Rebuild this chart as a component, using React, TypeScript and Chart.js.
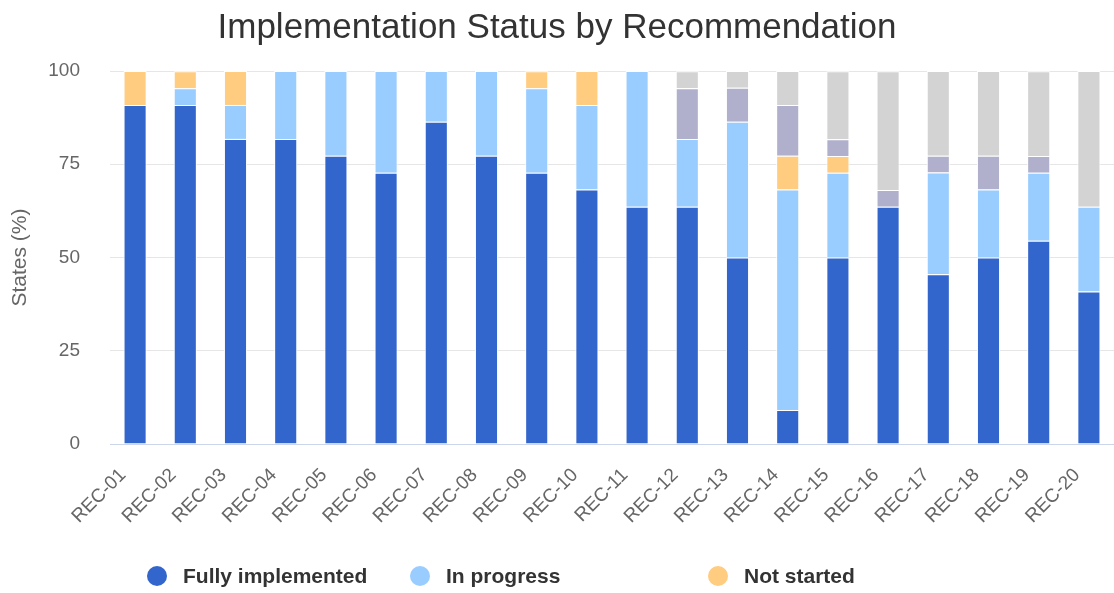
import React, { useEffect, useRef } from "react";
import { Chart, registerables } from "chart.js";

Chart.register(...registerables);

const categories = [
  "REC-01", "REC-02", "REC-03", "REC-04", "REC-05", "REC-06", "REC-07", "REC-08", "REC-09", "REC-10",
  "REC-11", "REC-12", "REC-13", "REC-14", "REC-15", "REC-16", "REC-17", "REC-18", "REC-19", "REC-20",
];

const fullyImplemented = [90.9, 90.9, 81.8, 81.8, 77.3, 72.7, 86.4, 77.3, 72.7, 68.2, 63.6, 63.6, 50.0, 9.1, 50.0, 63.6, 45.5, 50.0, 54.5, 40.9];
const inProgress = [0, 4.5, 9.1, 18.2, 22.7, 27.3, 13.6, 22.7, 22.7, 22.7, 36.4, 18.2, 36.4, 59.1, 22.7, 0, 27.3, 18.2, 18.2, 22.7];
const notStarted = [9.1, 4.5, 9.1, 0, 0, 0, 0, 0, 4.5, 9.1, 0, 0, 0, 9.1, 4.5, 0, 0, 0, 0, 0];
const otherStatus = [0, 0, 0, 0, 0, 0, 0, 0, 0, 0, 0, 13.6, 9.1, 13.6, 4.5, 4.5, 4.5, 9.1, 4.5, 0];
const noResponse = [0, 0, 0, 0, 0, 0, 0, 0, 0, 0, 0, 4.5, 4.5, 9.1, 18.2, 31.8, 22.7, 22.7, 22.7, 36.4];

const yTicks = [0, 25, 50, 75, 100];

const seriesNames = ["Fully implemented", "In progress", "Not started", "Other", "No response"];
const seriesColors = ["#3366cc", "#99ccff", "#ffcc80", "#b0b0cc", "#d3d3d3"];
const legendCount = 3;

const FONT = "'Liberation Sans', Arial, Helvetica, sans-serif";

const legendPlugin = {
  id: "customLegend",
  afterDraw(chart: any) {
    const ctx = chart.ctx;
    const xs = [157, 420, 718];
    const y = 576;
    ctx.save();
    for (let i = 0; i < legendCount; i++) {
      const ds = chart.data.datasets[i];
      ctx.beginPath();
      ctx.arc(xs[i], y, 10, 0, Math.PI * 2);
      ctx.fillStyle = ds.backgroundColor;
      ctx.fill();
      ctx.fillStyle = "#333333";
      ctx.font = `bold 21px ${FONT}`;
      ctx.textBaseline = "middle";
      ctx.textAlign = "left";
      ctx.fillText(ds.label, xs[i] + 26, y + 1);
    }
    ctx.restore();
  },
};

export default function App() {
  const ref = useRef<HTMLCanvasElement>(null);

  useEffect(() => {
    if (!ref.current) return;
    const seriesData = [fullyImplemented, inProgress, notStarted, otherStatus, noResponse];
    const chart = new Chart(ref.current, {
      type: "bar",
      data: {
        labels: categories,
        datasets: seriesData.map((d, i) => ({
          label: seriesNames[i],
          data: d,
          backgroundColor: seriesColors[i],
          borderColor: "#ffffff",
          borderWidth: 1,
          barPercentage: 0.46,
          categoryPercentage: 1,
        })),
      },
      options: {
        responsive: false,
        animation: false,
        devicePixelRatio: 1,
        layout: { padding: { left: 0, right: 0, top: 0, bottom: 49 } },
        plugins: {
          legend: { display: false },
          tooltip: { enabled: false },
          title: {
            display: true,
            text: "Implementation Status by Recommendation",
            color: "#333333",
            font: { family: FONT, size: 35, weight: "normal" },
            padding: { top: 7, bottom: 22 },
          },
        },
        scales: {
          x: {
            stacked: true,
            grid: { display: false, drawTicks: false },
            border: { display: true, color: "#ccd6eb", width: 1 },
            ticks: {
              color: "#666666",
              font: { family: FONT, size: 19 },
              minRotation: 45,
              maxRotation: 45,
              padding: 20,
              labelOffset: -12,
              autoSkip: false,
            },
            afterFit(scale: any) {
              scale.height = 100;
              scale.paddingRight = 0;
              scale.paddingLeft = 0;
            },
          },
          y: {
            stacked: true,
            min: 0,
            max: 100,
            afterBuildTicks(scale: any) {
              scale.ticks = yTicks.map((v) => ({ value: v }));
            },
            grid: { color: "#e6e6e6", drawTicks: false },
            border: { display: false },
            ticks: {
              color: "#666666",
              font: { family: FONT, size: 19 },
              padding: 30,
            },
            title: {
              display: true,
              text: "States (%)",
              color: "#666666",
              font: { family: FONT, size: 21 },
              padding: { top: 8, bottom: 0 },
            },
            afterFit(scale: any) {
              scale.width = 110;
            },
          },
        },
      },
      plugins: [legendPlugin],
    });
    return () => chart.destroy();
  }, []);

  return (
    <div style={{ position: "absolute", left: 0, top: 0, width: 1114, height: 593, background: "#ffffff" }}>
      <canvas ref={ref} width={1114} height={593} />
    </div>
  );
}
